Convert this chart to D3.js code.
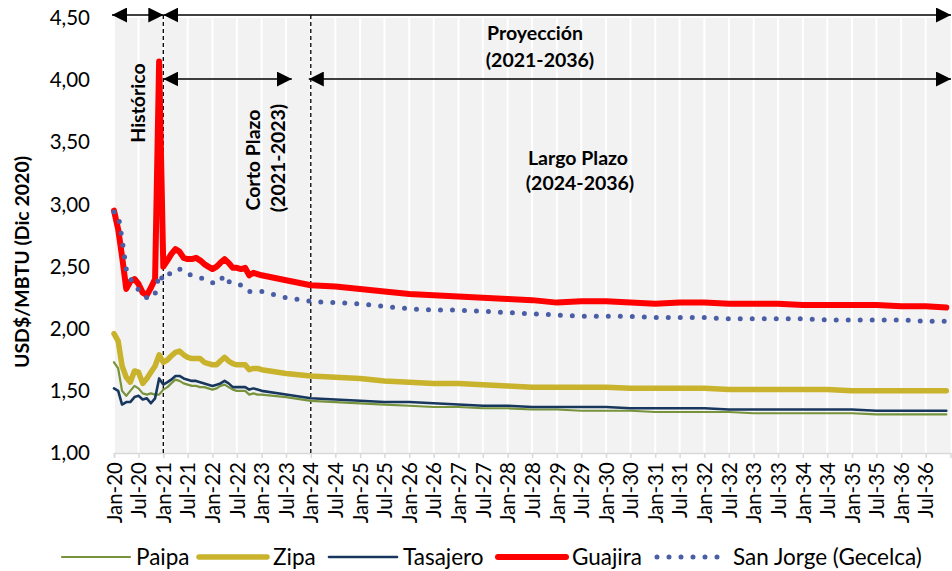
<!DOCTYPE html>
<html>
<head>
<meta charset="utf-8">
<script src="https://cdn.jsdelivr.net/npm/d3@7"></script>
<style>
  body { margin: 0; background: #fff; }
  text { font-family: "Lato", "Open Sans", sans-serif; fill: #000; }
</style>
</head>
<body>
<div id="chart"></div>
<script>
// fechas de los puntos leidos (mensual hasta ene-23, luego semestral)
let fechas = [
  "2020-01","2020-02","2020-03","2020-04","2020-05","2020-06","2020-07","2020-08","2020-09","2020-10","2020-11","2020-12",
  "2021-01","2021-02","2021-03","2021-04","2021-05","2021-06","2021-07","2021-08","2021-09","2021-10","2021-11","2021-12",
  "2022-01","2022-02","2022-03","2022-04","2022-05","2022-06","2022-07","2022-08","2022-09","2022-10","2022-11","2022-12",
  "2023-01","2023-07","2024-01","2024-07","2025-01","2025-07","2026-01","2026-07","2027-01","2027-07","2028-01","2028-07",
  "2029-01","2029-07","2030-01","2030-07","2031-01","2031-07","2032-01","2032-07","2033-01","2033-07","2034-01","2034-07",
  "2035-01","2035-07","2036-01","2036-07","2036-12"];

let paipa = [1.73,1.68,1.50,1.46,1.50,1.54,1.52,1.48,1.47,1.48,1.47,1.47,
  1.51,1.53,1.56,1.59,1.58,1.56,1.55,1.54,1.54,1.53,1.53,1.52,
  1.51,1.52,1.54,1.55,1.53,1.51,1.50,1.50,1.50,1.47,1.48,1.47,
  1.47,1.45,1.42,1.41,1.40,1.39,1.38,1.37,1.37,1.36,1.36,1.35,
  1.35,1.34,1.34,1.34,1.33,1.33,1.33,1.33,1.32,1.32,1.32,1.32,
  1.32,1.31,1.31,1.31,1.31];

let zipa = [1.96,1.90,1.70,1.61,1.57,1.66,1.65,1.56,1.60,1.65,1.70,1.79,
  1.73,1.75,1.78,1.81,1.82,1.79,1.77,1.76,1.76,1.76,1.73,1.72,
  1.71,1.71,1.74,1.77,1.74,1.72,1.71,1.71,1.71,1.67,1.68,1.68,
  1.67,1.64,1.62,1.61,1.60,1.58,1.57,1.56,1.56,1.55,1.54,1.53,
  1.53,1.53,1.53,1.52,1.52,1.52,1.52,1.51,1.51,1.51,1.51,1.51,
  1.50,1.50,1.50,1.50,1.50];

let tasajero = [1.52,1.50,1.39,1.41,1.41,1.45,1.46,1.43,1.44,1.40,1.44,1.60,
  1.55,1.57,1.59,1.62,1.62,1.60,1.59,1.58,1.58,1.57,1.56,1.55,
  1.54,1.55,1.56,1.58,1.56,1.53,1.53,1.53,1.53,1.51,1.52,1.51,
  1.50,1.47,1.44,1.43,1.42,1.41,1.41,1.40,1.39,1.38,1.38,1.37,
  1.37,1.37,1.37,1.36,1.36,1.36,1.36,1.35,1.35,1.35,1.35,1.35,
  1.35,1.34,1.34,1.34,1.34];

let guajira = [2.95,2.80,2.58,2.32,2.38,2.40,2.36,2.29,2.27,2.33,2.40,4.15,
  2.50,2.55,2.60,2.64,2.62,2.57,2.56,2.56,2.57,2.55,2.52,2.50,
  2.48,2.50,2.53,2.56,2.53,2.49,2.49,2.48,2.49,2.43,2.45,2.44,
  2.43,2.39,2.35,2.34,2.32,2.30,2.28,2.27,2.26,2.25,2.24,2.23,
  2.21,2.22,2.22,2.21,2.20,2.21,2.21,2.20,2.20,2.20,2.19,2.19,
  2.19,2.19,2.18,2.18,2.17];

let sanJorge = [2.94,2.92,2.72,2.48,2.40,2.37,2.31,2.27,2.25,2.24,2.28,2.44,
  2.39,2.42,2.46,2.48,2.48,2.47,2.44,2.43,2.42,2.41,2.40,2.39,
  2.37,2.36,2.39,2.43,2.38,2.36,2.36,2.35,2.34,2.30,2.30,2.30,
  2.30,2.25,2.22,2.21,2.20,2.18,2.16,2.15,2.15,2.14,2.13,2.12,
  2.11,2.10,2.10,2.10,2.09,2.09,2.09,2.08,2.08,2.08,2.08,2.07,
  2.07,2.07,2.07,2.06,2.06];

let yTicks = [1.00, 1.50, 2.00, 2.50, 3.00, 3.50, 4.00, 4.50];

let series = [
  {name: "Paipa", values: paipa, color: "#77933c", width: 2.2},
  {name: "Zipa", values: zipa, color: "#c9b22c", width: 5.5},
  {name: "Tasajero", values: tasajero, color: "#17375e", width: 2.6},
  {name: "Guajira", values: guajira, color: "#ff0000", width: 6},
  {name: "San Jorge (Gecelca)", values: sanJorge, color: "#4a5ea6", width: 5, dotted: true}
];

let width = 952;
let height = 571;
let mLeft = 114, mRight = 950.5, mTop = 18, mBottom = 453;

let parse = d3.timeParse("%Y-%m");
let dates = fechas.map(parse);

let x = d3.scaleTime()
  .domain([parse("2020-01"), parse("2037-01")])
  .range([mLeft, mRight]);

let y = d3.scaleLinear()
  .domain([1, 4.5])
  .range([mBottom, mTop]);

let locale = d3.formatLocale({decimal: ",", thousands: ".", grouping: [3], currency: ["$", ""]});
let fmt = locale.format(".2f");

let svg = d3.select("#chart")
  .append("svg")
  .attr("width", width)
  .attr("height", height);

// fondo del area de trazado
svg.append("rect")
  .attr("x", mLeft)
  .attr("y", mTop)
  .attr("width", mRight - mLeft)
  .attr("height", mBottom - mTop)
  .attr("fill", "#f2f2f2");

let xTicks = d3.timeMonth.every(6).range(parse("2020-01"), parse("2037-01"));

svg.append("g")
  .selectAll("line")
  .data(xTicks)
  .enter().append("line")
  .attr("x1", d => x(d)).attr("x2", d => x(d))
  .attr("y1", mTop).attr("y2", mBottom)
  .attr("stroke", "#fff")
  .attr("stroke-width", 2);

// eje x
let xAxis = svg.append("g")
  .attr("transform", "translate(0," + mBottom + ")")
  .call(d3.axisBottom(x).tickValues(xTicks).tickSize(5).tickFormat(d3.timeFormat("%b-%y")));
xAxis.select(".domain").attr("stroke", "#d9d9d9").attr("stroke-width", 1.5);
xAxis.selectAll(".tick line").attr("stroke", "#d9d9d9").attr("stroke-width", 1.5);
xAxis.selectAll(".tick text")
  .attr("transform", "rotate(-90)")
  .attr("text-anchor", "end")
  .attr("x", -9)
  .attr("y", 0)
  .attr("dy", "0.35em")
  .style("font-size", "20.5px")
  .style("font-family", "Lato, sans-serif")
  .attr("fill", "#000");

// eje y (solo etiquetas)
svg.append("g")
  .selectAll("text")
  .data(yTicks)
  .enter().append("text")
  .attr("x", 90)
  .attr("y", d => y(d))
  .attr("dy", "0.35em")
  .attr("text-anchor", "end")
  .style("font-size", "20.5px")
  .text(d => fmt(d));

svg.append("text")
  .attr("transform", "translate(22," + 262 + ") rotate(-90)")
  .attr("text-anchor", "middle")
  .attr("dy", "0.35em")
  .style("font-size", "19.5px")
  .style("font-weight", "bold")
  .text("USD$/MBTU (Dic 2020)");

// lineas divisorias
[parse("2021-01"), parse("2024-01")].forEach(function(d) {
  svg.append("line")
    .attr("x1", x(d)).attr("x2", x(d))
    .attr("y1", mTop - 3).attr("y2", mBottom)
    .attr("stroke", "#000")
    .attr("stroke-width", 1.3)
    .attr("stroke-dasharray", "4,3");
});

// series
let line = d3.line()
  .x((d, i) => x(dates[i]))
  .y(d => y(d));

series.forEach(function(s) {
  let p = svg.append("path")
    .datum(s.values)
    .attr("d", line)
    .attr("fill", "none")
    .attr("stroke", s.color)
    .attr("stroke-width", s.width)
    .attr("stroke-linejoin", "round")
    .attr("stroke-linecap", "round");
  if (s.dotted) p.attr("stroke-dasharray", "0,12");
});

// flechas
let defs = svg.append("defs");
defs.append("marker")
  .attr("id", "arrow")
  .attr("viewBox", "0 0 10 10")
  .attr("refX", 10).attr("refY", 5)
  .attr("markerUnits", "userSpaceOnUse")
  .attr("markerWidth", 15).attr("markerHeight", 15)
  .attr("orient", "auto-start-reverse")
  .append("path")
  .attr("d", "M0,0 L10,5 L0,10 Z")
  .attr("fill", "#000");

function arrow(x1, x2, yy) {
  svg.append("line")
    .attr("x1", x1).attr("x2", x2)
    .attr("y1", yy).attr("y2", yy)
    .attr("stroke", "#000")
    .attr("stroke-width", 1.5)
    .attr("marker-start", "url(#arrow)")
    .attr("marker-end", "url(#arrow)");
}
arrow(112, x(parse("2021-01")), 15);
arrow(x(parse("2021-01")), 951, 15);
arrow(x(parse("2021-01")), x(parse("2024-01")) - 19, 79);
arrow(x(parse("2024-01")) - 2, 951, 79);

// textos
function label(txt, tx, ty, rot) {
  svg.append("text")
    .attr("transform", "translate(" + tx + "," + ty + ")" + (rot ? " rotate(-90)" : ""))
    .attr("text-anchor", "middle")
    .attr("dy", "0.35em")
    .style("font-size", "19.5px")
    .style("font-weight", "bold")
    .text(txt);
}
label("Histórico", 138, 103, true);
label("Corto Plazo", 253, 160, true);
label("(2021-2023)", 278, 158, true);
label("Proyección", 535, 33, false);
label("(2021-2036)", 540, 60, false);
label("Largo Plazo", 578, 158, false);
label("(2024-2036)", 580, 183, false);

// leyenda
let legendX = [62, 199, 329, 498, 657];
let legend = svg.selectAll(".legend")
  .data(series)
  .enter().append("g")
  .attr("class", "legend")
  .attr("transform", (d, i) => "translate(" + legendX[i] + ",557)");

legend.append("line")
  .attr("x1", 0).attr("x2", d => d.dotted ? 61 : 68)
  .attr("y1", 0).attr("y2", 0)
  .attr("stroke", d => d.color)
  .attr("stroke-width", d => d.width)
  .attr("stroke-linecap", "round")
  .attr("stroke-dasharray", d => d.dotted ? "0,12" : null);

legend.append("text")
  .attr("x", d => d.dotted ? 76 : 74)
  .attr("dy", "0.35em")
  .style("font-size", "22.5px")
  .text(d => d.name);
</script>
</body>
</html>
